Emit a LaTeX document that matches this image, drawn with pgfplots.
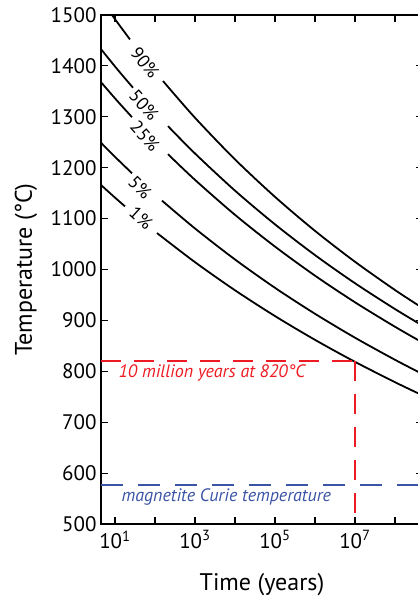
\documentclass[border=0pt]{standalone}
\usepackage{fontspec}
\setmainfont{PT Sans}
\usepackage{pgfplots}
\pgfplotsset{compat=1.18}
\definecolor{annred}{RGB}{237,28,36}
\definecolor{annblue}{RGB}{59,84,165}
\tikzset{curve/.style={black, line width=1.8pt, smooth, no marks},
  pct/.style={font=\fontsize{18}{20}\selectfont, inner sep=0pt}}

\begin{document}
\begin{tikzpicture}
  \begin{axis}[
    scale only axis,
    width=322pt, height=509pt,
    xmode=log,
    xmin=4.467, xmax=5.012e8,
    ymin=500, ymax=1500,
    xtick={10,100,1000,1e4,1e5,1e6,1e7,1e8},
    xticklabels={10\textsuperscript{1},,10\textsuperscript{3},,10\textsuperscript{5},,10\textsuperscript{7},},
    xminorticks=false,
    ytick={500,600,...,1500},
    yticklabel style={/pgf/number format/1000 sep={}, /pgf/number format/assume math mode=true},
    ticklabel style={font=\fontsize{21}{24}\selectfont},
    xticklabel style={yshift=-3pt},
    yticklabel style={xshift=-1pt},
    major tick length=7pt,
    tick style={line width=1.2pt, black},
    axis line style={line width=1.5pt},
    xlabel={Time (years)},
    ylabel={Temperature (°C)},
    label style={font=\fontsize{24}{28}\selectfont},
    xlabel style={at={([yshift=-61pt]axis description cs:0.5,0)}, anchor=center},
    ylabel style={at={([xshift=-75pt]axis description cs:0,0.5)}, anchor=center, rotate=0},
  ]
    % 90%
    \addplot[curve] coordinates {(8.414,1500) (14.13,1475.7) (23.71,1452.0)};
    \addplot[curve] coordinates {(158.5,1370.3) (1000,1298.1) (1e4,1216.3) (1e5,1142.7) (1e6,1075.9) (1e7,1015.2) (1e8,959.7) (5.012e8,923.7)};
    % 50%
    \addplot[curve] coordinates {(4.467,1433) (11.22,1394.1) (28.18,1357.1)};
    \addplot[curve] coordinates {(211.3,1281.6) (1000,1227.9) (1e4,1154.9) (1e5,1088.7) (1e6,1028.3) (1e7,973.0) (1e8,922.3) (5.012e8,889.2)};
    % 25%
    \addplot[curve] coordinates {(4.467,1368) (11.22,1331.8) (26.61,1299.3)};
    \addplot[curve] coordinates {(211.3,1226.5) (1000,1176.1) (1e4,1107.4) (1e5,1045.0) (1e6,987.9) (1e7,935.6) (1e8,887.5) (5.012e8,856.0)};
    % 5%
    \addplot[curve] coordinates {(4.467,1249) (11.22,1217.5) (26.61,1189.1)};
    \addplot[curve] coordinates {(149.6,1135.3) (1000,1080.6) (1e4,1019.7) (1e5,964.0) (1e6,913.0) (1e7,866.0) (1e8,822.6) (5.012e8,794.1)};
    % 1%
    \addplot[curve] coordinates {(4.467,1166) (8.913,1144.7) (17.78,1124.0)};
    \addplot[curve] coordinates {(112.2,1071.6) (1000,1014.4) (1e4,959.2) (1e5,908.5) (1e6,861.8) (1e7,818.6) (1e8,778.6) (5.012e8,752.3)};

    % 10 million years at 820 C
    \addplot[annred, line width=2.4pt, dash pattern=on 20pt off 13pt] coordinates {(4.467,820) (1e7,820)};
    \addplot[annred, line width=2.4pt, dash pattern=on 20pt off 13pt] coordinates {(1e7,820) (1e7,500)};
    % magnetite Curie temperature
    \addplot[annblue, line width=2.4pt, dash pattern=on 22pt off 15pt] coordinates {(4.467,577) (5.012e8,577)};

    \node[annred, anchor=west, font=\fontsize{18}{20}\selectfont\itshape] at (axis cs:10,797) {10 million years at 820°C};
    \node[annblue, anchor=west, font=\fontsize{18}{20}\selectfont\itshape] at (axis cs:11.9,553) {magnetite Curie temperature};

    \node[pct, rotate=-52] at (axis cs:56.2,1406) {90\%};
    \node[pct, rotate=-48] at (axis cs:53.1,1323) {50\%};
    \node[pct, rotate=-48] at (axis cs:56.2,1262) {25\%};
    \node[pct, rotate=-45] at (axis cs:42.2,1162) {5\%};
    \node[pct, rotate=-42] at (axis cs:44.7,1101) {1\%};

    \coordinate (SW) at (rel axis cs:0,0);
    \coordinate (NE) at (axis cs:3.758e8,1500);
  \end{axis}
  \pgfresetboundingbox
  \path[use as bounding box] ([xshift=-101pt,yshift=-74pt]SW) rectangle ([yshift=15pt]NE);
\end{tikzpicture}
\end{document}
